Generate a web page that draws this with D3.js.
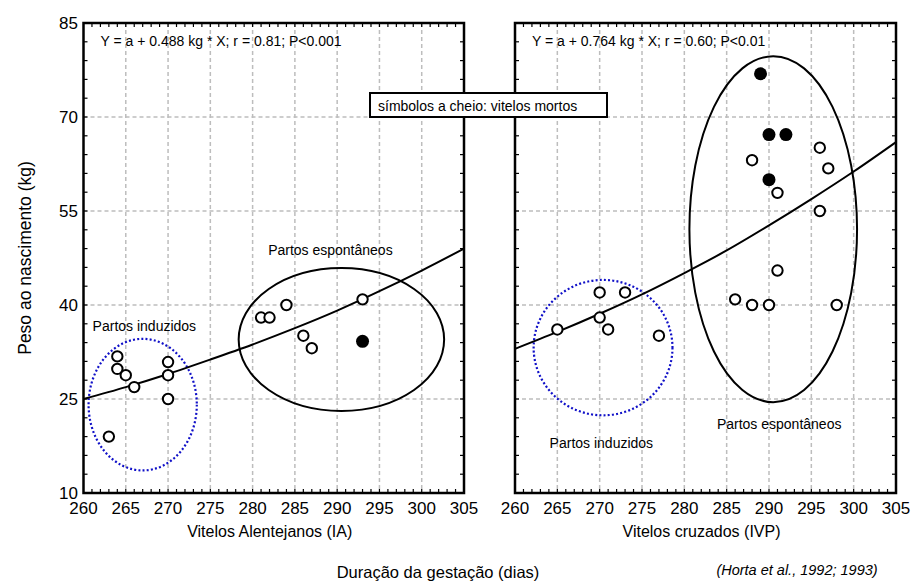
<!DOCTYPE html>
<html><head><meta charset="utf-8">
<script src="https://cdn.jsdelivr.net/npm/d3@7"></script>
<style>
body{margin:0;background:#fff}
text{font-family:"Liberation Sans",Arial,Helvetica,sans-serif;fill:#000}
</style>
</head><body>
<svg id="chart" width="916" height="583"></svg>
<script>
// ---- data ----
const xTicks = [260,265,270,275,280,285,290,295,300,305];
const yTicks = [10,25,40,55,70,85];

const leftOpenX = [263,264,264,265,266,270,270,270,281,282,284,286,287,293];
const leftOpenY = [19,31.8,29.8,28.8,26.9,30.9,28.8,25,38,38,40,35.1,33.1,40.9];
const leftDeadX = [293];
const leftDeadY = [34.2];
const leftCurveX = [260,265,270,275,280,285,290,295,300,305];
const leftCurveY = [25.0,26.9,29.0,31.3,33.7,36.3,39.1,42.2,45.5,49.0];

const rightOpenX = [265,270,273,270,271,277,296,288,297,291,296,291,286,288,290,298];
const rightOpenY = [36.1,42,42,38,36.1,35.1,65.1,63.1,61.8,57.9,55,45.5,40.9,40,40,40];
const rightDeadX = [289,290,292,290];
const rightDeadY = [76.9,67.2,67.2,60];
const rightCurveX = [260,265,270,275,280,285,290,295,300,305];
const rightCurveY = [33.0,35.7,38.6,41.7,45.1,48.7,52.7,56.9,61.3,66.0];

// ellipses: centre x, centre y, radius x, radius y (data units)
const leftInduced = [267,24.1,6.4,10.5];
const leftSpont = [290.5,34.5,12.15,11.4];
const rightInduced = [270.4,33.2,8.2,10.8];
const rightSpont = [290.5,52.1,9.9,27.6];

const leftEquation = "Y = a + 0.488 kg * X; r = 0.81; P<0.001";
const rightEquation = "Y = a + 0.764 kg * X; r = 0.60; P<0.01";
const leftTitle = "Vitelos Alentejanos (IA)";
const rightTitle = "Vitelos cruzados (IVP)";
const yTitle = "Peso ao nascimento (kg)";
const xTitle = "Duração da gestação (dias)";
const source = "(Horta et al., 1992; 1993)";
const legendText = "símbolos a cheio: vitelos mortos";
const labInduced = "Partos induzidos";
const labSpont = "Partos espontâneos";

// ---- drawing ----
const svg = d3.select("#chart");
const plotTop = 23, plotBottom = 493;
const y = d3.scaleLinear().domain([10,85]).range([plotBottom, plotTop]);

function panel(x0, x1, cfg){
  const x = d3.scaleLinear().domain([260,305]).range([x0, x1]);
  const g = svg.append("g");
  // grid
  g.selectAll(".gx").data(xTicks.filter(d=>d>260&&d<305)).enter().append("line")
    .attr("x1",d=>x(d)).attr("x2",d=>x(d)).attr("y1",plotTop).attr("y2",plotBottom)
    .attr("stroke","#bdbdbd").attr("stroke-width",1.5).attr("stroke-dasharray","4,3");
  g.selectAll(".gy").data(yTicks.filter(d=>d>10&&d<85)).enter().append("line")
    .attr("x1",x0).attr("x2",x1).attr("y1",d=>y(d)).attr("y2",d=>y(d))
    .attr("stroke","#bdbdbd").attr("stroke-width",1.5).attr("stroke-dasharray","4,3");
  // minor ticks (inward)
  const xMinor = d3.range(261,305,1);
  const yMinor = d3.range(13,85,3);
  g.selectAll(".tb").data(xMinor).enter().append("line")
    .attr("x1",d=>x(d)).attr("x2",d=>x(d)).attr("y1",plotBottom).attr("y2",plotBottom-4)
    .attr("stroke","#000").attr("stroke-width",1.2);
  g.selectAll(".tt").data(xMinor).enter().append("line")
    .attr("x1",d=>x(d)).attr("x2",d=>x(d)).attr("y1",plotTop).attr("y2",plotTop+4)
    .attr("stroke","#000").attr("stroke-width",1.2);
  g.selectAll(".tl").data(yMinor).enter().append("line")
    .attr("x1",x0).attr("x2",x0+4).attr("y1",d=>y(d)).attr("y2",d=>y(d))
    .attr("stroke","#000").attr("stroke-width",1.2);
  g.selectAll(".tr").data(yMinor).enter().append("line")
    .attr("x1",x1).attr("x2",x1-4).attr("y1",d=>y(d)).attr("y2",d=>y(d))
    .attr("stroke","#000").attr("stroke-width",1.2);

  // ellipses
  const ell = (e, dashed) => g.append("ellipse")
    .attr("cx",x(e[0])).attr("cy",y(e[1]))
    .attr("rx",x(e[0]+e[2])-x(e[0])).attr("ry",y(e[1])-y(e[1]+e[3]))
    .attr("fill","none")
    .attr("stroke",dashed?"#1010c8":"#000")
    .attr("stroke-width",dashed?2.2:2)
    .attr("stroke-dasharray",dashed?"2,2.2":null);
  ell(cfg.induced,true);
  ell(cfg.spont,false);

  // regression curve
  const line = d3.line().x(d=>x(d[0])).y(d=>y(d[1])).curve(d3.curveCatmullRom);
  g.append("path").datum(cfg.cx.map((v,i)=>[v,cfg.cy[i]]))
    .attr("d",line).attr("fill","none").attr("stroke","#000").attr("stroke-width",2);

  // points
  g.selectAll(".op").data(cfg.ox.map((v,i)=>[v,cfg.oy[i]])).enter().append("circle")
    .attr("cx",d=>x(d[0])).attr("cy",d=>y(d[1])).attr("r",5.2)
    .attr("fill","#fff").attr("stroke","#000").attr("stroke-width",2);
  g.selectAll(".dp").data(cfg.dx.map((v,i)=>[v,cfg.dy[i]])).enter().append("circle")
    .attr("cx",d=>x(d[0])).attr("cy",d=>y(d[1])).attr("r",6.5)
    .attr("fill","#000");

  // frame
  g.append("rect").attr("x",x0).attr("y",plotTop).attr("width",x1-x0).attr("height",plotBottom-plotTop)
    .attr("fill","none").attr("stroke","#000").attr("stroke-width",2.5);

  // x tick labels
  g.selectAll(".xl").data(xTicks).enter().append("text")
    .attr("x",d=>x(d)).attr("y",514).attr("text-anchor","middle")
    .attr("font-size",17).text(d=>d);
  // panel title
  g.append("text").attr("x",(x0+x1)/2 - 4).attr("y",537).attr("text-anchor","middle")
    .attr("font-size",16).text(cfg.title);
  // equation
  g.append("text").attr("x",x0+17).attr("y",46).attr("font-size",14).text(cfg.eq);
  // group labels
  g.append("text").attr("x",x(cfg.indLab[0])).attr("y",y(cfg.indLab[1])).attr("text-anchor","middle")
    .attr("font-size",14).text(labInduced);
  g.append("text").attr("x",x(cfg.spLab[0])).attr("y",y(cfg.spLab[1])).attr("text-anchor","middle")
    .attr("font-size",14).text(labSpont);
  return x;
}

panel(83.5, 464, {
  induced:leftInduced, spont:leftSpont, cx:leftCurveX, cy:leftCurveY,
  ox:leftOpenX, oy:leftOpenY, dx:leftDeadX, dy:leftDeadY,
  title:leftTitle, eq:leftEquation, indLab:[267.2,35.9], spLab:[289.2,47.9]
});
panel(515, 896, {
  induced:rightInduced, spont:rightSpont, cx:rightCurveX, cy:rightCurveY,
  ox:rightOpenX, oy:rightOpenY, dx:rightDeadX, dy:rightDeadY,
  title:rightTitle, eq:rightEquation, indLab:[270.2,17.2], spLab:[291.2,20.2]
});

// y axis tick labels
svg.selectAll(".yl").data(yTicks).enter().append("text")
  .attr("x",78).attr("y",d=>y(d)).attr("dy","0.36em").attr("text-anchor","end")
  .attr("font-size",17).text(d=>d);
// y title
svg.append("text").attr("transform","translate(31,258) rotate(-90)")
  .attr("text-anchor","middle").attr("font-size",17.5).text(yTitle);
// x title
svg.append("text").attr("x",438).attr("y",578).attr("text-anchor","middle")
  .attr("font-size",16.5).text(xTitle);
// source
svg.append("text").attr("x",797).attr("y",575).attr("text-anchor","middle")
  .attr("font-size",14.5).attr("font-style","italic").text(source);

// legend box
svg.append("rect").attr("x",370).attr("y",93).attr("width",237).attr("height",24)
  .attr("fill","#fff").attr("stroke","#000").attr("stroke-width",2);
svg.append("text").attr("x",378).attr("y",110.5).attr("font-size",14).text(legendText);
</script>
</body></html>
